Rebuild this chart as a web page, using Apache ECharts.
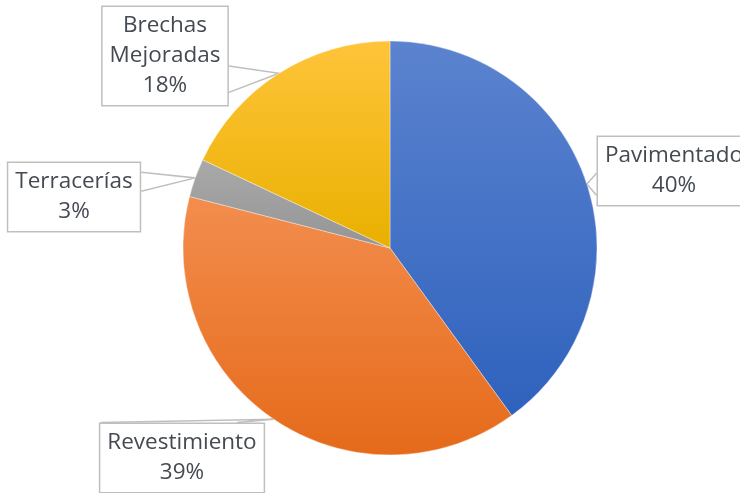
<!DOCTYPE html>
<html>
<head>
<meta charset="utf-8">
<script src="https://cdn.jsdelivr.net/npm/echarts@6/dist/echarts.min.js"></script>
<style>
  html, body { margin: 0; padding: 0; background: #ffffff; }
  #chart { width: 740px; height: 493px; }
</style>
</head>
<body>
<div id="chart"></div>
<script>
// Road surface shares
const categories = ['Pavimentado', 'Revestimiento', 'Terracerías', 'Brechas Mejoradas'];
const shares = [40, 39, 3, 18];

// Vertical gradients per slice: [top, bottom]
const sliceColors = [
  ['#5b83cf', '#2f62bd'],
  ['#f38d4e', '#e56a1a'],
  ['#a9a9a9', '#959595'],
  ['#ffc43a', '#e9b000']
];

// Callout box centres
const boxCentres = [
  [674, 171],
  [182, 458],
  [74, 197],
  [165, 56]
];

// Callout wedge base: box side and start/end fractions along that side
const wedgeBases = [
  { side: 'left', from: 0.53, to: 0.84 },
  { side: 'top', from: 0.01, to: 0.83 },
  { side: 'right', from: 0.15, to: 0.42 },
  { side: 'right', from: 0.6, to: 0.86 }
];

function calloutPoints(cx, cy, w, h, tip, base) {
  const x0 = cx - w / 2, y0 = cy - h / 2;
  let a, b;
  if (base.side === 'left' || base.side === 'right') {
    const ex = base.side === 'left' ? x0 : x0 + w;
    a = [ex, y0 + base.from * h];
    b = [ex, y0 + base.to * h];
  } else {
    const ey = base.side === 'top' ? y0 : y0 + h;
    a = [x0 + base.from * w, ey];
    b = [x0 + base.to * w, ey];
  }
  return [a, tip, b];
}

const chart = echarts.init(document.getElementById('chart'), null, { renderer: 'canvas' });

const data = categories.map((name, i) => ({
  name: name,
  value: shares[i],
  itemStyle: {
    color: new echarts.graphic.LinearGradient(0, 0, 0, 1, [
      { offset: 0, color: sliceColors[i][0] },
      { offset: 1, color: sliceColors[i][1] }
    ])
  }
}));

chart.setOption({
  animation: false,
  series: [{
    type: 'pie',
    left: 0,
    top: 0,
    width: 1000,
    height: 493,
    center: [390, 248],
    radius: 207,
    startAngle: 90,
    clockwise: true,
    data: data,
    itemStyle: { borderColor: 'rgba(255,255,255,0.6)', borderWidth: 0.6 },
    label: {
      show: true,
      formatter: p => p.name.replace(' ', '\n') + '\n' + p.value + '%',
      fontFamily: 'Open Sans',
      fontSize: 22.5,
      lineHeight: 30,
      color: '#454a52',
      align: 'center',
      overflow: 'none',
      bleedMargin: -300,
      backgroundColor: '#ffffff',
      borderColor: '#bfbfbf',
      borderWidth: 1.5,
      padding: [4, 7, 4, 7]
    },
    labelLine: {
      show: true,
      length: 10,
      length2: 10,
      lineStyle: { color: '#bfbfbf', width: 1.5 }
    },
    labelLayout: p => {
      const c = boxCentres[p.dataIndex];
      const w = p.labelRect.width, h = p.labelRect.height;
      const tip = p.labelLinePoints[0];
      return {
        x: c[0],
        y: c[1],
        align: 'center',
        verticalAlign: 'middle',
        labelLinePoints: calloutPoints(c[0], c[1], w, h, tip, wedgeBases[p.dataIndex])
      };
    }
  }]
});
</script>
</body>
</html>
